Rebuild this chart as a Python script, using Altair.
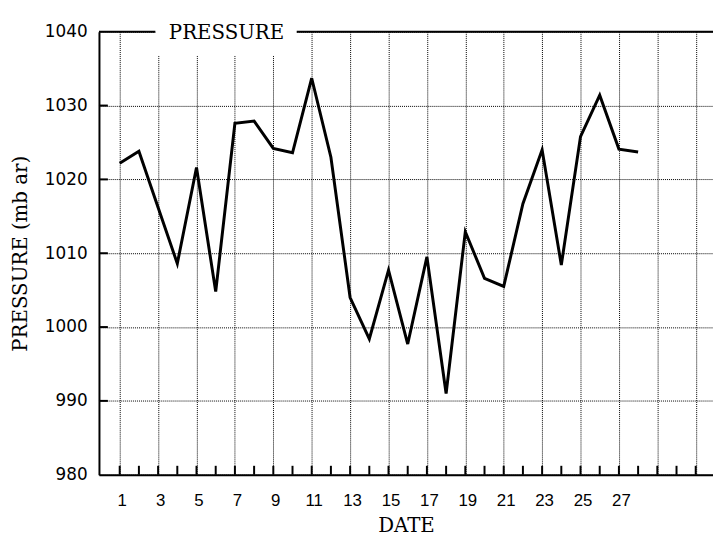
import altair as alt
import pandas as pd

# ---- data ----
days = list(range(1, 29))
pressure = [1022.2, 1023.8, 1016.2, 1008.6, 1021.6, 1004.8, 1027.6, 1027.9,
            1024.2, 1023.6, 1033.7, 1023.0, 1004.0, 998.4, 1007.7, 997.7,
            1009.5, 991.0, 1012.9, 1006.6, 1005.5, 1016.7, 1024.0, 1008.4,
            1025.8, 1031.4, 1024.1, 1023.7]
tick_days = list(range(1, 32))
grid_days = list(range(1, 32, 2))
y_values = [980, 990, 1000, 1010, 1020, 1030, 1040]
y_inner_ticks = [990, 1000, 1010, 1020, 1030]
legend_label = "PRESSURE"

W, H = 621, 448
SERIF = "DejaVu Serif"

xscale = alt.Scale(domain=[-0.08, 31.9], nice=False, zero=False)
yscale = alt.Scale(domain=[980, 1040], nice=False, zero=False)

df = pd.DataFrame({"day": days, "pressure": pressure})
one = pd.DataFrame({"a": [0]})

line = alt.Chart(df).mark_line(color="black", strokeWidth=3, strokeJoin="miter").encode(
    x=alt.X("day:Q", scale=xscale, axis=alt.Axis(
        values=grid_days, grid=True, gridColor="black", gridDash=[1, 1], gridWidth=1,
        gridOpacity=1, ticks=False, tickSize=0, domain=True, domainColor="black",
        domainWidth=2, labelFont="Liberation Sans", labelFontSize=17, labelColor="black",
        labelPadding=18, labelOffset=2, labelFlush=False, labelOverlap=False,
        labelExpr="datum.value > 28 ? '' : datum.label",
        title="DATE", titleFont=SERIF, titleFontSize=20, titleFontWeight="normal",
        titleColor="black", titleX=W / 2, titleY=57, titleBaseline="alphabetic",
        titleAlign="center")),
    y=alt.Y("pressure:Q", scale=yscale, axis=alt.Axis(
        values=y_values, format="d", grid=True, gridColor="black", gridDash=[1, 1],
        gridWidth=1, gridOpacity=1, ticks=False, tickSize=0, domain=True,
        domainColor="black", domainWidth=2, labelFont="DejaVu Sans", labelFontSize=17,
        labelColor="black", labelPadding=12, labelOverlap=False, labelFlush=False,
        title="PRESSURE (mb ar)", titleFont=SERIF, titleFontSize=20,
        titleFontWeight="normal", titleColor="black", titleAngle=270,
        titleX=-73, titleY=H / 2, titleBaseline="alphabetic", titleAlign="center")),
)

xticks = alt.Chart(pd.DataFrame({"day": tick_days})).mark_rule(
    color="black", strokeWidth=2).encode(
    x=alt.X("day:Q", scale=xscale), y=alt.value(H), y2=alt.value(H - 9))

yticks = alt.Chart(pd.DataFrame({"pressure": y_inner_ticks})).mark_rule(
    color="black", strokeWidth=2).encode(
    y=alt.Y("pressure:Q", scale=yscale), x=alt.value(0), x2=alt.value(9))

legend_bg = alt.Chart(one).mark_rect(color="white").encode(
    x=alt.value(57), x2=alt.value(200), y=alt.value(-3), y2=alt.value(24))

top_left = alt.Chart(one).mark_rule(color="black", strokeWidth=2).encode(
    x=alt.value(0), x2=alt.value(57), y=alt.value(0))
top_right = alt.Chart(one).mark_rule(color="black", strokeWidth=2).encode(
    x=alt.value(200), x2=alt.value(W + 2), y=alt.value(0))

legend_text = alt.Chart(one).mark_text(
    text=legend_label, font=SERIF, fontSize=20, align="center",
    baseline="alphabetic", color="black").encode(
    x=alt.value(129), y=alt.value(7.5))

chart = alt.layer(legend_bg, top_left, top_right, legend_text, xticks, yticks, line).properties(
    width=W, height=H,
    autosize=alt.AutoSizeParams(type="none"),
    padding={"left": 92, "top": 21, "right": 0, "bottom": 60},
).configure_view(stroke=None).configure(background="white")

chart.save("out.html", embed_options={"renderer": "svg", "actions": False})
